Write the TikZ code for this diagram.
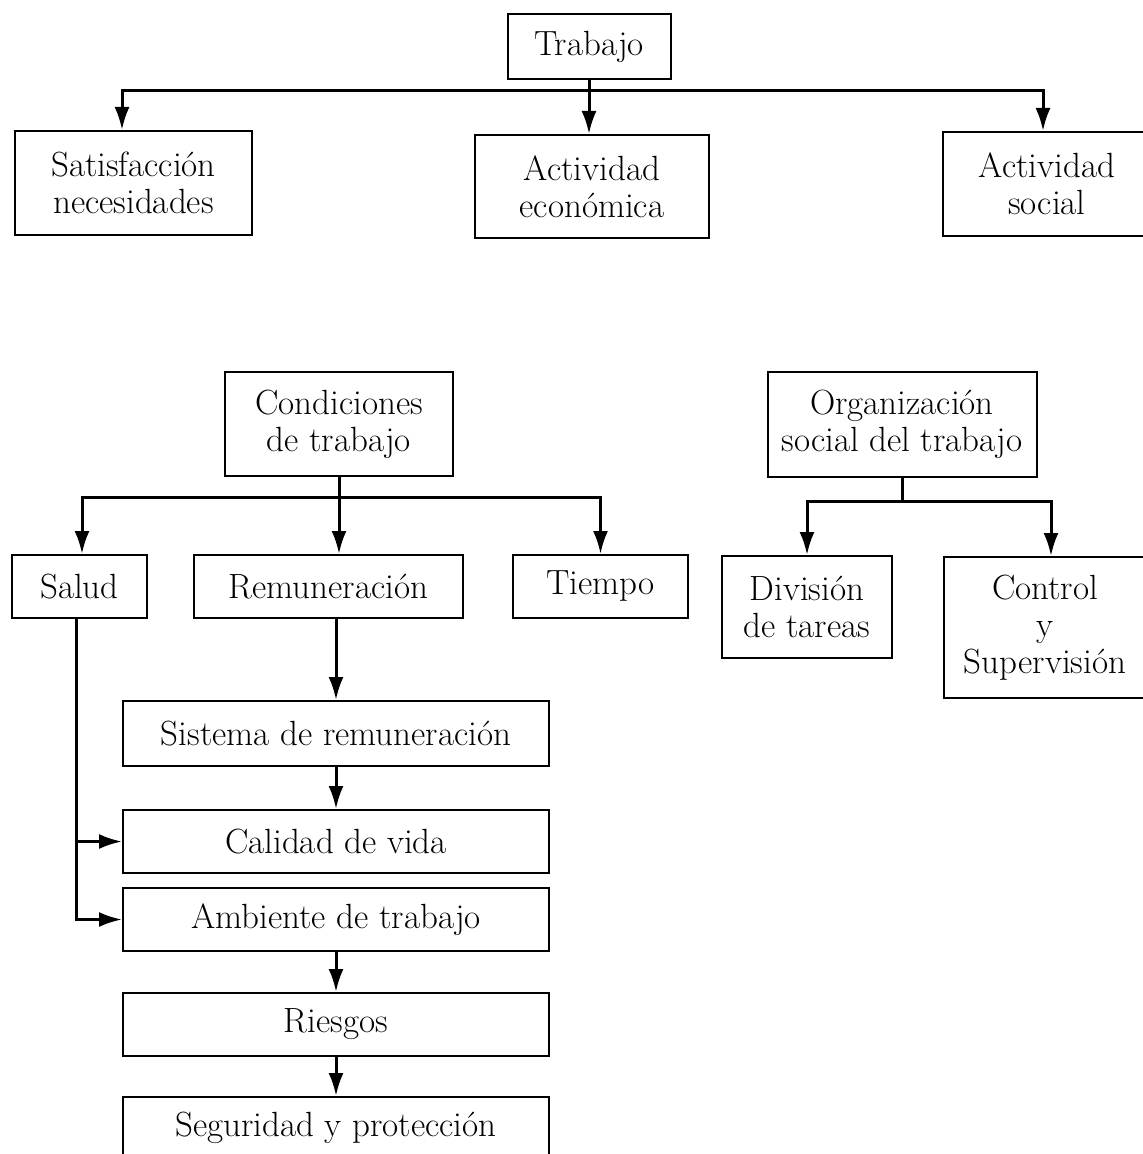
\documentclass[tikz,border=0pt]{standalone}
\usetikzlibrary{arrows.meta}
\begin{document}
\begin{tikzpicture}[>={Latex[length=11.5pt,width=7.5pt]},x=.5pt,y=-.5pt,
	box/.style={draw,line width=1pt,align=center,inner sep=0pt,
		font=\fontsize{17.5}{18.5}\selectfont},
	conn/.style={->,line width=1.5pt}]
	\useasboundingbox (0,0) rectangle (1142,1154);
	% first level
	\node[box,minimum width=81.5pt,minimum height=32.5pt] (trabajo) at (589,46.5) {Trabajo};
	\node[box,minimum width=118.5pt,minimum height=52pt] (necesidades) at (133.5,183) {Satisfacción\\necesidades};
	\node[box,minimum width=117pt,minimum height=51.5pt] (economica) at (592,186.5) {Actividad\\económica};
	\node[box,minimum width=104pt,minimum height=52pt] (social) at (1047,184) {Actividad\\social};
	\coordinate (bus1) at (589,91);
	\draw[conn] (trabajo.south) -- (trabajo.south |- economica.north);
	\draw[conn] (bus1) -| ([xshift=-5.75pt]necesidades.north);
	\draw[conn] (bus1) -| ([xshift=-2pt]social.north);
	% condiciones
	\node[box,minimum width=114pt,minimum height=52pt] (condiciones) at (339,424) {Condiciones\\de trabajo};
	\node[box,minimum width=67.5pt,minimum height=31.5pt] (salud) at (79.5,586.5) {Salud};
	\node[box,minimum width=134.5pt,minimum height=31.5pt] (remuneracion) at (328.5,586.5) {Remuneración};
	\node[box,minimum width=87.5pt,minimum height=31.5pt] (tiempo) at (600.5,586.5) {Tiempo};
	\coordinate (bus2) at (339,497);
	\draw[conn] (condiciones.south) -- (condiciones.south |- remuneracion.north);
	\draw[conn] (bus2) -| ([xshift=1.25pt]salud.north);
	\draw[conn] (bus2) -| (tiempo.north);
	% organizacion
	\node[box,minimum width=134.5pt,minimum height=52.5pt] (organizacion) at (902,424.5) {Organización\\social del trabajo};
	\node[box,minimum width=85pt,minimum height=51pt] (division) at (807,607) {División\\de tareas};
	\node[box,minimum width=101pt,minimum height=70.5pt] (control) at (1045,627.5) {Control\\y\\Supervisión};
	\coordinate (bus3) at (902,501);
	\draw[line width=1.5pt] (organizacion.south) -- (bus3);
	\draw[conn] (bus3) -| (division.north);
	\draw[conn] (bus3) -| ([xshift=3pt]control.north);
	% cadena
	\node[box,minimum width=213pt,minimum height=32.5pt] (sistema) at (336,733.5) {Sistema de remuneración};
	\node[box,minimum width=213pt,minimum height=31.5pt] (calidad) at (336,841.5) {Calidad de vida};
	\node[box,minimum width=213pt,minimum height=31.5pt] (ambiente) at (336,919.5) {Ambiente de trabajo};
	\node[box,minimum width=213pt,minimum height=31.5pt] (riesgos) at (336,1024.5) {Riesgos};
	\node[box,minimum width=213pt,minimum height=31pt] (seguridad) at (336,1128) {Seguridad y protección};
	\draw[conn] (remuneracion.south -| sistema.north) -- (sistema.north);
	\draw[conn] (sistema) -- (calidad);
	\draw[conn] (ambiente) -- (riesgos);
	\draw[conn] (riesgos) -- (seguridad);
	\draw[conn] ([xshift=-1.5pt]salud.south) |- (calidad.west);
	\draw[conn] ([xshift=-1.5pt]salud.south) |- (ambiente.west);
\end{tikzpicture}
\end{document}
